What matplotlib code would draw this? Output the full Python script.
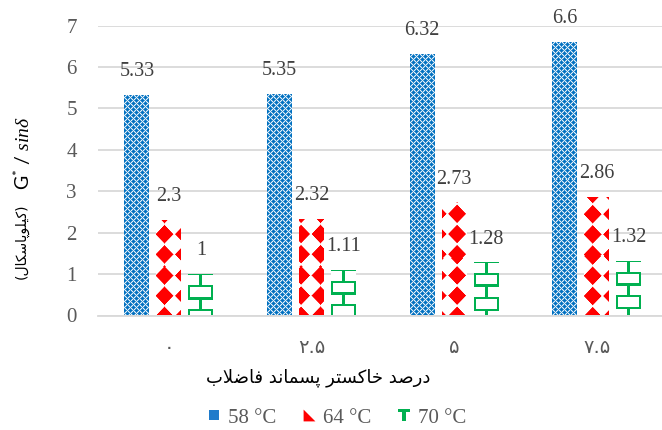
import numpy as np
import matplotlib
matplotlib.use('Agg')
import matplotlib.pyplot as plt
from matplotlib.lines import Line2D

# chart values
categories = ['۰', '۲.۵', '۵', '۷.۵']
series_names = ['58 °C', '64 °C', '70 °C']
vals_58 = [5.33, 5.35, 6.32, 6.6]
vals_64 = [2.3, 2.32, 2.73, 2.86]
vals_70 = [1, 1.11, 1.28, 1.32]
x_label = 'درصد خاکستر پسماند فاضلاب'
y_label_fa = 'کیلوپاسکال'

plt.rcParams['mathtext.fontset'] = 'custom'
plt.rcParams['mathtext.rm'] = 'Lato'
plt.rcParams['mathtext.sf'] = 'Lato'
plt.rcParams['mathtext.it'] = 'Liberation Serif:italic'

# --- minimal Persian shaping (matplotlib has no bidi / joining) ---
FORMS = {
    'ا': (0xFE8D, 0xFE8E, None, None),
    'د': (0xFEA9, 0xFEAA, None, None),
    'ر': (0xFEAD, 0xFEAE, None, None),
    'و': (0xFEED, 0xFEEE, None, None),
    'لا': (0xFEFB, 0xFEFC, None, None),
    'ب': (0xFE8F, 0xFE90, 0xFE91, 0xFE92),
    'ت': (0xFE95, 0xFE96, 0xFE97, 0xFE98),
    'خ': (0xFEA5, 0xFEA6, 0xFEA7, 0xFEA8),
    'س': (0xFEB1, 0xFEB2, 0xFEB3, 0xFEB4),
    'ص': (0xFEB9, 0xFEBA, 0xFEBB, 0xFEBC),
    'ض': (0xFEBD, 0xFEBE, 0xFEBF, 0xFEC0),
    'ف': (0xFED1, 0xFED2, 0xFED3, 0xFED4),
    'ل': (0xFEDD, 0xFEDE, 0xFEDF, 0xFEE0),
    'م': (0xFEE1, 0xFEE2, 0xFEE3, 0xFEE4),
    'ن': (0xFEE5, 0xFEE6, 0xFEE7, 0xFEE8),
    'پ': (0xFB56, 0xFB57, 0xFB58, 0xFB59),
    'ک': (0xFB8E, 0xFB8F, 0xFB90, 0xFB91),
    'ی': (0xFBFC, 0xFBFD, 0xFBFE, 0xFBFF),
}


def shape(text):
    tokens, i = [], 0
    while i < len(text):
        if text[i] == 'ل' and i + 1 < len(text) and text[i + 1] == 'ا':
            tokens.append('لا')
            i += 2
        else:
            tokens.append(text[i])
            i += 1

    def dual(t):
        return t in FORMS and FORMS[t][2] is not None

    out = []
    for k, t in enumerate(tokens):
        if t not in FORMS:
            out.append(t)
            continue
        prev = tokens[k - 1] if k > 0 else None
        nxt = tokens[k + 1] if k + 1 < len(tokens) else None
        jp = prev is not None and dual(prev)
        jn = dual(t) and nxt in FORMS
        iso, fin, ini, med = FORMS[t]
        if jp and jn:
            c = med
        elif jp:
            c = fin
        elif jn:
            c = ini
        else:
            c = iso
        out.append(chr(c))
    return ''.join(reversed(out))


# --- fill patterns (pixel images, anchored to the page like Excel) ---
BLUE = np.array([0, 112, 192]) / 255
RED = np.array([255, 0, 0]) / 255
GREEN = np.array([0, 176, 80]) / 255
WHITE = np.ones(3)


def make_pattern(kind, w, h, left, top):
    v, u = np.mgrid[0:h, 0:w] + 0.5
    if kind == 'blue':
        p = 6.0
        def md(cu, cv):
            du = np.abs((u - cu + p / 2) % p - p / 2)
            dv = np.abs((v - cv + p / 2) % p - p / 2)
            return du + dv
        d = np.minimum(md(0.5, 0.5), md(3.5, 3.5))
        a = np.clip(2.7 - d, 0, 1) * 0.9 + 0.1
        col = BLUE
    elif kind == 'red':
        px, py = 19.45, 20.2
        ug = left + u
        vg = top + v
        du = np.abs((ug - 165 + px / 2) % px - px / 2) / px
        dv = np.abs((vg - 296 + py / 2) % py - py / 2) / py
        d = du + dv
        a = np.clip((0.46 - d) * px + 0.5, 0, 1)
        col = RED
    else:
        p = 11.7
        row = np.floor(v / p).astype(int)
        hl = (v % p) < 2.2
        vc = np.abs(u - w / 2) < 1.2
        ve = (u < 2.2) | (u > w - 2.2)
        a = (hl | np.where(row % 2 == 0, vc, ve)).astype(float)
        col = GREEN
    img = a[..., None] * col + (1 - a[..., None]) * WHITE
    return img


fig = plt.figure(figsize=(6.62, 4.30), dpi=100)
W, H = 662, 430
ax = fig.add_axes([97.7 / W, 114.5 / H, (668 - 97.7) / W, 290 / H])
ax.set_xlim(-0.5, 3.5)
ax.set_ylim(0, 7)

x = np.arange(len(categories))
bw = 0.1753
step = 0.2244
serif = 'Liberation Serif'

series = [(vals_58, 'blue'), (vals_64, 'red'), (vals_70, 'green')]
for k, (vals, kind) in enumerate(series):
    xs = x + (k - 1) * step
    bars = ax.bar(xs, vals, width=bw, facecolor='none', edgecolor='none', zorder=2)
    for b in bars:
        x0, y0 = ax.transData.transform((b.get_x(), 0))
        x1, y1 = ax.transData.transform((b.get_x() + b.get_width(), b.get_height()))
        w = max(int(round(x1 - x0)), 1)
        h = max(int(round(y1 - y0)), 1)
        img = make_pattern(kind, w, h, x0, H - y1)
        im = ax.imshow(img, extent=(b.get_x(), b.get_x() + b.get_width(), 0, b.get_height()),
                       origin='upper', aspect='auto', interpolation='nearest', zorder=2)
        im.set_clip_path(b)
    ax.bar_label(bars, labels=['{:g}'.format(v) for v in vals], padding=10,
                 fontsize=14.5, color='#404040', family=serif)

ax.set_xlim(-0.5, 3.5)
ax.set_ylim(0, 7)
ax.set_yticks(range(8))
ax.set_xticks(x)
ax.set_xticklabels(categories, fontsize=14, color='#595959', family='DejaVu Sans')
for lab in ax.get_yticklabels():
    lab.set_family(serif)
ax.tick_params(axis='y', length=0, pad=15, labelsize=15, labelcolor='#595959')
ax.tick_params(axis='x', length=0, pad=16)
ax.grid(axis='y', color='#D9D9D9', linewidth=1.3, zorder=0)
ax.set_axisbelow(True)
for s in ['top', 'right', 'left']:
    ax.spines[s].set_visible(False)
ax.spines['bottom'].set_color('#D9D9D9')
ax.spines['bottom'].set_linewidth(1.3)

# axis titles
fig.text(318 / W, 1 - 378 / H, shape(x_label), ha='center', va='center',
         fontsize=13, color='#000000', family='DejaVu Sans')
fig.text(22 / W, 1 - 279 / H, '(' + shape(y_label_fa) + ')', rotation=90,
         ha='center', va='bottom', fontsize=10, color='#000000', family='DejaVu Sans')
fig.text(22 / W, 1 - 116 / H, r'$\mathrm{G}^{*}$ / $\mathit{sin\delta}$', rotation=90,
         ha='center', va='top', fontsize=14, color='#000000', family='Lato')

# legend
t_verts = [(-1, 1), (1, 1), (1, 0.45), (0.3, 0.45), (0.3, -1), (-0.3, -1), (-0.3, 0.45), (-1, 0.45)]
handles = [
    Line2D([], [], linestyle='none', marker='s', markersize=7.5, color='#1F7BCB', markeredgewidth=0),
    Line2D([], [], linestyle='none', marker=[(-1, -1), (1, -1), (-1, 1)], markersize=8.5,
           color='#FF0000', markeredgewidth=0),
    Line2D([], [], linestyle='none', marker=t_verts, markersize=8.5, color='#00B050', markeredgewidth=0),
]
fig.legend(handles, series_names, loc='center', bbox_to_anchor=(337 / W, 1 - 418 / H), ncol=3,
           frameon=False, prop={'family': serif, 'size': 15}, labelcolor='#595959',
           handlelength=0.6, handletextpad=0.35, columnspacing=1.3)

fig.savefig('out.png', dpi=100)
